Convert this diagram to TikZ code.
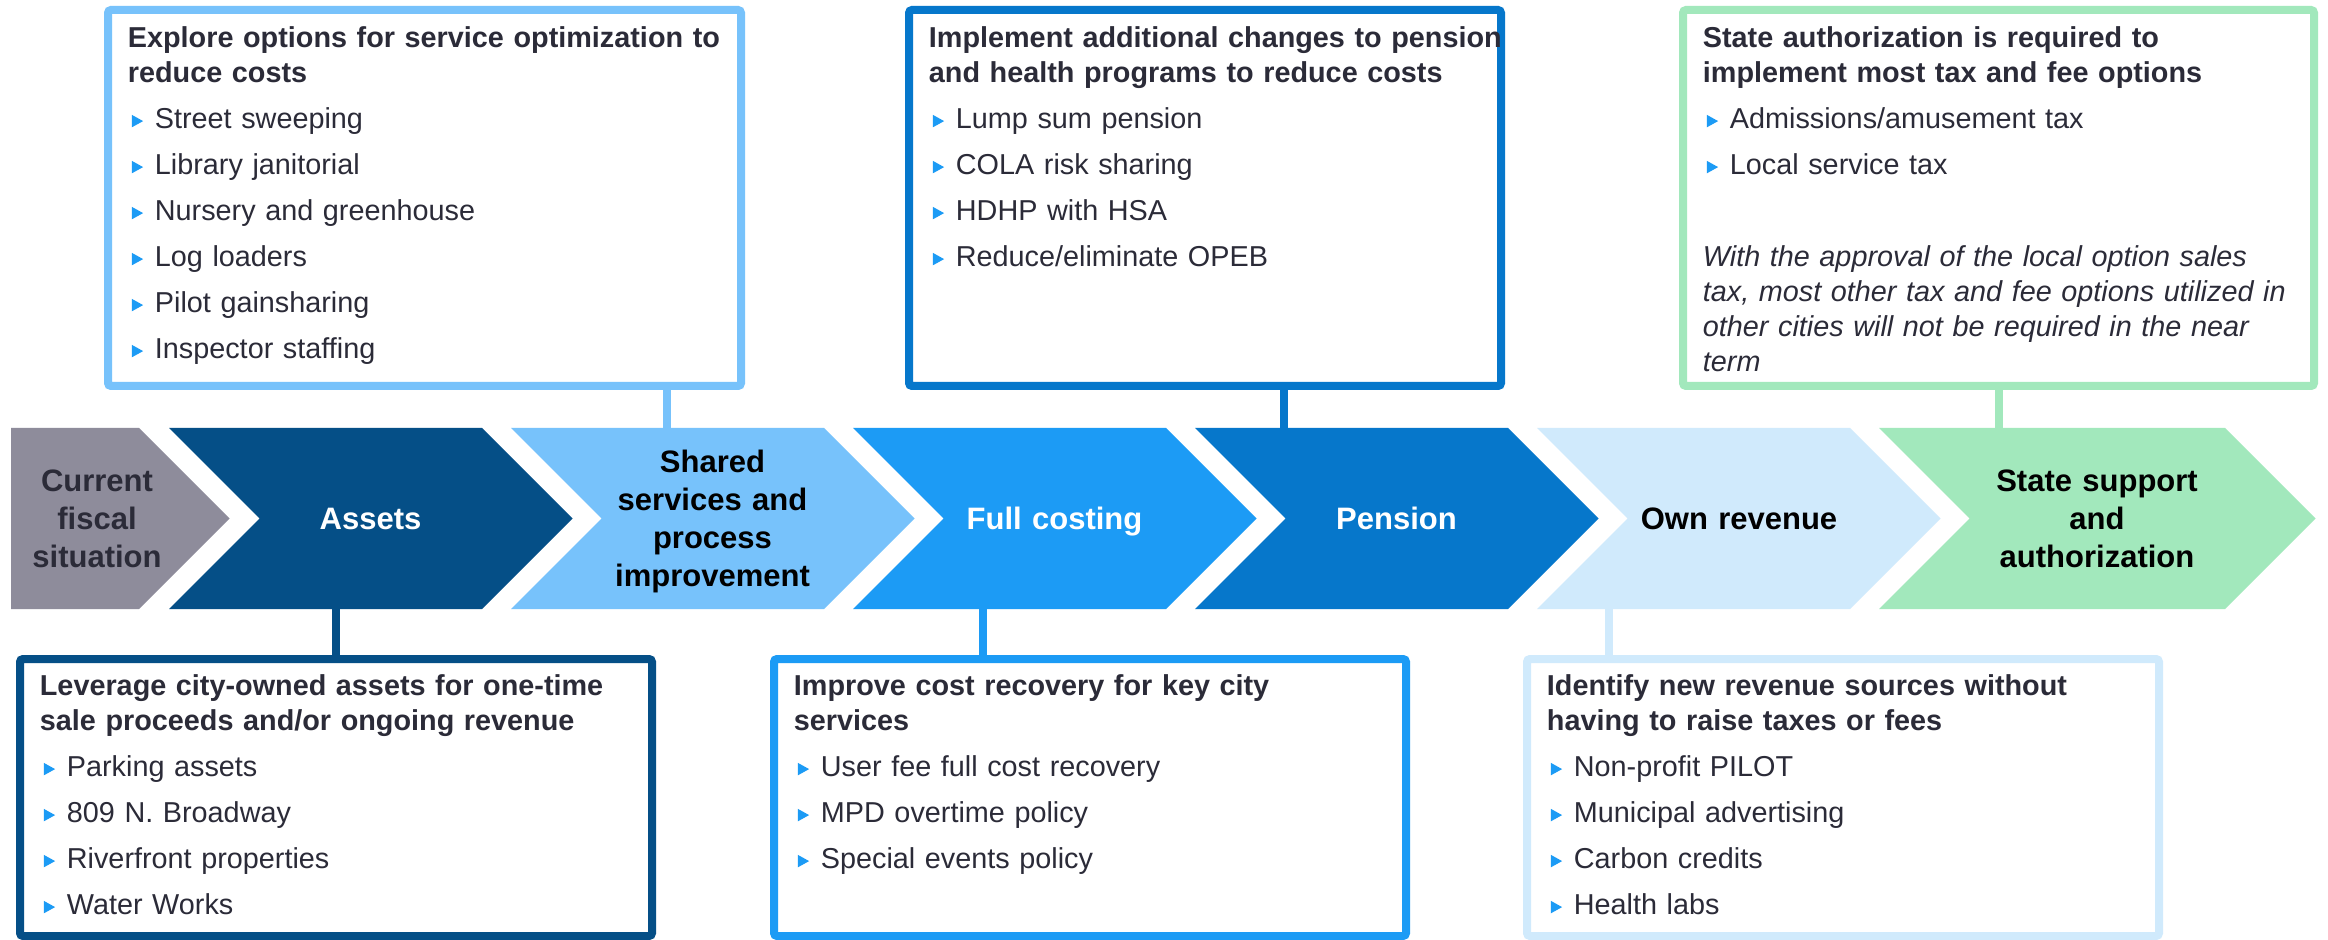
\documentclass[tikz,border=0pt]{standalone}
\usepackage{fontspec}
\setmainfont{Liberation Sans}
\usetikzlibrary{calc}

\definecolor{fiscalgray}{HTML}{8E8C9B}
\definecolor{assetblue}{HTML}{054F87}
\definecolor{skyblue}{HTML}{77C2FB}
\definecolor{costblue}{HTML}{1C9BF5}
\definecolor{pensionblue}{HTML}{0677CB}
\definecolor{paleblue}{HTML}{D0EAFC}
\definecolor{stategreen}{HTML}{A2E8BC}
\definecolor{inkdark}{HTML}{2B2B38}

% blue triangular bullet and list item
\newcommand\tri{\makebox[13.5pt][l]{\hspace{2pt}\tikz[baseline=0pt,x=1pt,y=1pt]
  \fill[costblue] (0,0.6) -- (0,6.8) -- (5.6,3.7) -- cycle;}}
\newcommand\itm[1]{\par\vspace{5.5pt}\tri#1}

% chevron: left edge, shoulder x, fill colour
\newcommand\chev[3]{%
  \fill[#3] (#1,428) -- (#2,428) -- ++(90.5,90.5) -- (#2,609) -- (#1,609) -- ++(90.5,-90.5) -- cycle;}

\tikzset{
  infobox/.style={draw=#1, line width=4pt, outer sep=2pt, fill=white,
    rounded corners=1.5pt, inner sep=0pt, anchor=north west, minimum height=188pt},
  lowbox/.style={infobox=#1, minimum height=138.5pt},
  boxtext/.style={anchor=base west, inner sep=0pt, text width=300pt, align=left,
    text=inkdark, font=\fontsize{14.4}{17.5}\selectfont},
  chevlabel/.style={anchor=base, inner sep=0pt, text width=130pt, align=center,
    font=\bfseries\fontsize{15.5}{19}\selectfont, text=#1},
  conn/.style={draw=#1, line width=4pt}
}

\begin{document}
\begin{tikzpicture}[x=0.5pt,y=-0.5pt]
\useasboundingbox (0,0) rectangle (2328,940);
\fill[white] (0,0) rectangle (2328,940);

% ---- chevron band ----
\fill[fiscalgray] (11,428) -- (139,428) -- (229.5,518.5) -- (139,609) -- (11,609) -- cycle;
\chev{169}{482}{assetblue}
\chev{511}{824}{skyblue}
\chev{853}{1166}{costblue}
\chev{1195}{1508}{pensionblue}
\chev{1537}{1850}{paleblue}
\chev{1879}{2225}{stategreen}

\node[chevlabel=inkdark] (c0) at (97,492) {Current\\fiscal\\situation};
\node[chevlabel=white] (c1) at (370.5,530) {Assets};
\node[chevlabel=black] (c2) at (712.5,473) {Shared\\services and\\process\\improvement};
\node[chevlabel=white] (c3) at (1054.5,530) {Full costing};
\node[chevlabel=white] (c4) at (1396.5,530) {Pension};
\node[chevlabel=black] (c5) at (1739,530) {Own revenue};
\node[chevlabel=black] (c6) at (2097,492) {State support\\and\\authorization};

% attachment points on the chevrons
\coordinate (a1) at (336,609);
\coordinate (a2) at (667,428);
\coordinate (a3) at (983,609);
\coordinate (a4) at (1284,428);
\coordinate (a5) at (1609,609);
\coordinate (a6) at (1999,428);

% ---- upper boxes ----
\node[infobox=skyblue, minimum width=316.5pt] (b1) at (104,6) {};
\node[infobox=pensionblue, minimum width=296pt] (b2) at (905,6) {};
\node[infobox=stategreen, minimum width=315.5pt] (b3) at (1679,6) {};

% ---- lower boxes ----
\node[lowbox=assetblue, minimum width=316pt] (b4) at (16,655) {};
\node[lowbox=costblue, minimum width=316pt] (b5) at (770,655) {};
\node[lowbox=paleblue, minimum width=316pt] (b6) at (1523,655) {};

% ---- connectors ----
\draw[conn=skyblue] (a2 |- b1.south) -- (a2);
\draw[conn=pensionblue] (a4 |- b2.south) -- (a4);
\draw[conn=stategreen] (a6 |- b3.south) -- (a6);
\draw[conn=assetblue] (a1) -- (a1 |- b4.north);
\draw[conn=costblue] (a3) -- (a3 |- b5.north);
\draw[conn=paleblue] (a5) -- (a5 |- b6.north);

% ---- box texts ----
\node[boxtext] (t1) at ([shift={(23.5,41.5)}]b1.north west)
  {\textbf{Explore options for service optimization to\\reduce costs}%
   \itm{Street sweeping}\itm{Library janitorial}\itm{Nursery and greenhouse}%
   \itm{Log loaders}\itm{Pilot gainsharing}\itm{Inspector staffing}};

\node[boxtext] (t2) at ([shift={(23.5,41.5)}]b2.north west)
  {\textbf{Implement additional changes to pension\\and health programs to reduce costs}%
   \itm{Lump sum pension}\itm{COLA risk sharing}\itm{HDHP with HSA}%
   \itm{Reduce/eliminate OPEB}};

\node[boxtext] (t3) at ([shift={(23.5,41.5)}]b3.north west)
  {\textbf{State authorization is required to\\implement most tax and fee options}%
   \itm{Admissions/amusement tax}\itm{Local service tax}%
   \par\vspace{28.5pt}\textit{With the approval of the local option sales\\tax, most other tax and fee options utilized in\\other cities will not be required in the near\\term}};

\node[boxtext] (t4) at ([shift={(23.5,40.5)}]b4.north west)
  {\textbf{Leverage city-owned assets for one-time\\sale proceeds and/or ongoing revenue}%
   \itm{Parking assets}\itm{809 N. Broadway}\itm{Riverfront properties}%
   \itm{Water Works}};

\node[boxtext] (t5) at ([shift={(23.5,40.5)}]b5.north west)
  {\textbf{Improve cost recovery for key city\\services}%
   \itm{User fee full cost recovery}\itm{MPD overtime policy}%
   \itm{Special events policy}};

\node[boxtext] (t6) at ([shift={(23.5,40.5)}]b6.north west)
  {\textbf{Identify new revenue sources without\\having to raise taxes or fees}%
   \itm{Non-profit PILOT}\itm{Municipal advertising}\itm{Carbon credits}%
   \itm{Health labs}};
\end{tikzpicture}
\end{document}
